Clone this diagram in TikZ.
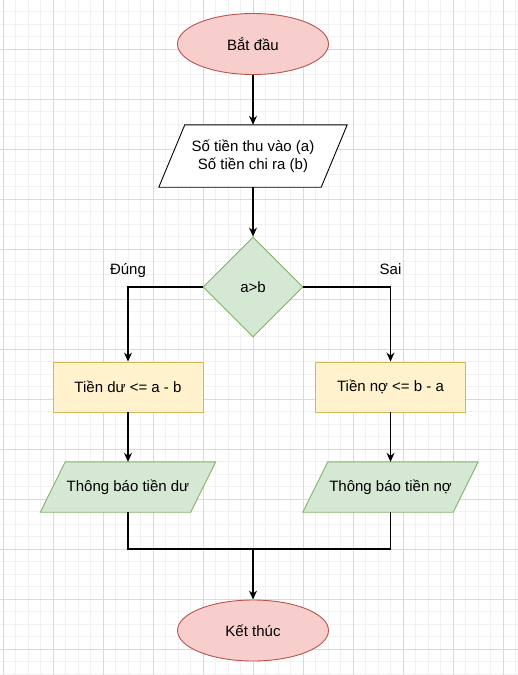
\documentclass[tikz,border=0pt]{standalone}
\usepackage{fontspec}
\setmainfont{Liberation Sans}
\usepackage{tikz}
\usetikzlibrary{positioning, arrows.meta, shapes.geometric, backgrounds}

\definecolor{redfill}{HTML}{F8CECC}
\definecolor{redline}{HTML}{B85450}
\definecolor{greenfill}{HTML}{D5E8D4}
\definecolor{greenline}{HTML}{82B366}
\definecolor{yellowfill}{HTML}{FFF2CC}
\definecolor{yellowline}{HTML}{D6B656}
\definecolor{gridmajor}{HTML}{DADADA}
\definecolor{gridminor}{HTML}{F1F1F1}

\tikzset{
  every node/.style={font=\fontsize{15}{18}\selectfont, text=black},
  terminal/.style={ellipse, draw=redline, fill=redfill, line width=0.9pt,
    minimum width=151pt, minimum height=61pt, inner sep=0pt},
  inout/.style={rectangle, minimum width=150pt, minimum height=50pt, inner sep=0pt},
  decision/.style={diamond, draw=greenline, fill=greenfill, line width=0.9pt,
    minimum width=100pt, minimum height=100pt, inner sep=0pt},
  process/.style={rectangle, draw=yellowline, fill=yellowfill, line width=0.9pt,
    minimum width=150pt, minimum height=50pt, inner sep=0pt},
  branchlabel/.style={anchor=base, yshift=13pt},
  flow/.style={line width=1.3pt, -{Stealth[length=9pt, width=8pt, inset=3pt]}},
  mergeline/.style={line width=1.3pt}
}

\begin{document}
\begin{tikzpicture}[x=1pt, y=-1pt]
\useasboundingbox (0,0) rectangle (518,675);

% nodes
\node[terminal] (start) at (253,44) {Bắt đầu};
\node[inout, minimum width=162pt, minimum height=62pt, align=center]
  (input) at (253,156) {Số tiền thu vào (a)\\Số tiền chi ra (b)};
\node[decision] (cond) at (253,287) {a>b};
\node[process] (surplus) at (128,387) {Tiền dư <= a - b};
\node[process] (debt) at (390.5,387) {Tiền nợ <= b - a};
\node[inout] (showsurplus) at (128,487) {Thông báo tiền dư};
\node[inout] (showdebt) at (390.5,487) {Thông báo tiền nợ};
\node[terminal] (stop) at (253,630.5) {Kết thúc};
\coordinate (merge) at (253,549);

\begin{scope}[on background layer]
% grid
\fill[white] (0,0) rectangle (518,675);
\foreach \i in {0,...,42} {
  \draw[gridminor, line width=0.8pt] (3+12.5*\i,0) -- (3+12.5*\i,675);
}
\foreach \j in {0,...,54} {
  \draw[gridminor, line width=0.8pt] (0,-1+12.5*\j) -- (518,-1+12.5*\j);
}
\foreach \i in {0,...,10} {
  \draw[gridmajor, line width=1pt] (3+50*\i,0) -- (3+50*\i,675);
}
\foreach \j in {0,...,13} {
  \draw[gridmajor, line width=1pt] (0,-1+50*\j) -- (518,-1+50*\j);
}
% parallelograms behind the input/output nodes
\foreach \n/\s/\d/\f in {input/13/black/white, showsurplus/12.5/greenline/greenfill,
    showdebt/12.5/greenline/greenfill} {
  \draw[draw=\d, fill=\f, line width=0.9pt]
    ([xshift=-\s pt]\n.south west) -- ([xshift=\s pt]\n.north west)
    -- ([xshift=\s pt]\n.north east) -- ([xshift=-\s pt]\n.south east) -- cycle;
}
\end{scope}

% connectors
\draw[flow] (start) -- (input);
\draw[flow] (input) -- (cond);
\draw[flow] (cond.west) -| node[pos=0.5, branchlabel] {Đúng} (surplus.north);
\draw[flow] (cond.east) -| node[pos=0.5, branchlabel] {Sai} (debt.north);
\draw[flow] (surplus) -- (showsurplus);
\draw[flow] (debt) -- (showdebt);
\draw[mergeline] (showsurplus.south) |- (merge) -| (showdebt.south);
\draw[flow] (merge) -- (stop);
\end{tikzpicture}
\end{document}
